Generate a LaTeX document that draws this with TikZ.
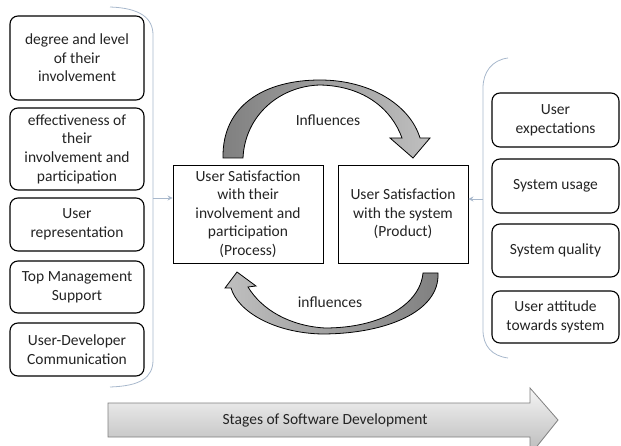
\documentclass[tikz,border=0pt]{standalone}
\usepackage{fontspec}
\setmainfont{Carlito}
\usetikzlibrary{arrows.meta}
\definecolor{brkblue}{RGB}{168,184,204}
\definecolor{txtgray}{RGB}{35,35,35}
\begin{document}
\begin{tikzpicture}[x=1pt,y=-1pt,
  txt/.style={align=center, inner sep=0pt, text=txtgray, font=\fontsize{15.5}{18.6}\selectfont},
  side/.style={txt, draw=black, line width=1.1pt, rounded corners=8pt},
  core/.style={txt, draw=black, line width=0.9pt},
  brk/.style={draw=brkblue, line width=0.8pt},
  curvearrow/.style={draw=black, line width=0.8pt}
]
\useasboundingbox (0,0) rectangle (621,446);
% left factor boxes
\node[side, minimum width=134pt, minimum height=84pt] (l1) at (77,58) {degree and level\\of their\\involvement};
\node[side, minimum width=134pt, minimum height=82pt] (l2) at (77,149) {effectiveness of\\their\\involvement and\\participation};
\node[side, minimum width=134pt, minimum height=53pt] (l3) at (77,224.5) {User\\representation};
\node[side, minimum width=134pt, minimum height=52pt] (l4) at (77,287) {Top Management\\Support};
\node[side, minimum width=134pt, minimum height=53pt] (l5) at (77,349.5) {User-Developer\\Communication};
% right factor boxes
\node[side, minimum width=127pt, minimum height=54pt] (r1) at (555.5,120) {User\\expectations};
\node[side, minimum width=127pt, minimum height=54pt] (r2) at (555.5,186) {System usage};
\node[side, minimum width=127pt, minimum height=53pt] (r3) at (555.5,250.5) {System quality};
\node[side, minimum width=127pt, minimum height=52pt] (r4) at (555.5,317) {User attitude\\towards system};
% central boxes
\node[core, minimum width=150pt, minimum height=98pt] (proc) at (248,214) {User Satisfaction\\with their\\involvement and\\participation\\(Process)};
\node[core, minimum width=130pt, minimum height=98pt] (prod) at (403,214) {User Satisfaction\\with the system\\(Product)};
% brackets
\draw[brk] (110,7) .. controls (140,8) and (153,18) .. (153,35) -- (153,360) .. controls (153,378) and (140,386) .. (110,387);
\draw[brk] (508,58) .. controls (492,60) and (483,72) .. (483,88) -- (483,330) .. controls (483,346) and (492,356) .. (508,358);
\coordinate (lb) at (153,198);
\coordinate (rb) at (483,199);
\draw[brk, -{Stealth[length=5pt,width=5pt]}] (lb) -- (proc.west |- lb);
\draw[brk, -{Stealth[length=5pt,width=5pt]}] (rb) -- (prod.east |- rb);
% top curved arrow
\shadedraw[curvearrow, left color=gray!100, right color=gray!50]
  (223,158) .. controls (222,105) and (265,80) .. (320,80)
  .. controls (370,80) and (410,105) .. (420,138) -- (430,138) -- (413,158) -- (390,138) -- (402,138)
  .. controls (392,110) and (365,86) .. (320,85)
  .. controls (280,86) and (245,115) .. (243,158) -- cycle;
\node[txt] (inf1) at (328,120) {Influences};
% bottom curved arrow
\shadedraw[curvearrow, left color=gray!50, right color=gray!100]
  (438,273) .. controls (440,312) and (385,334) .. (322,334)
  .. controls (275,333) and (238,312) .. (231,288) -- (225,288) -- (237,272) -- (256,286) -- (248,287)
  .. controls (262,310) and (290,326) .. (325,328)
  .. controls (380,328) and (420,305) .. (423,273) -- cycle;
\node[txt] (inf2) at (330,302) {influences};
% stages arrow
\shadedraw[draw=gray, line width=0.8pt, top color=gray!8, bottom color=gray!55]
  (108,403) -- (530,403) -- (530,388) -- (558,420) -- (530,455) -- (530,437) -- (108,437) -- cycle;
\node[txt] (stages) at (325,420) {Stages of Software Development};
\end{tikzpicture}
\end{document}
